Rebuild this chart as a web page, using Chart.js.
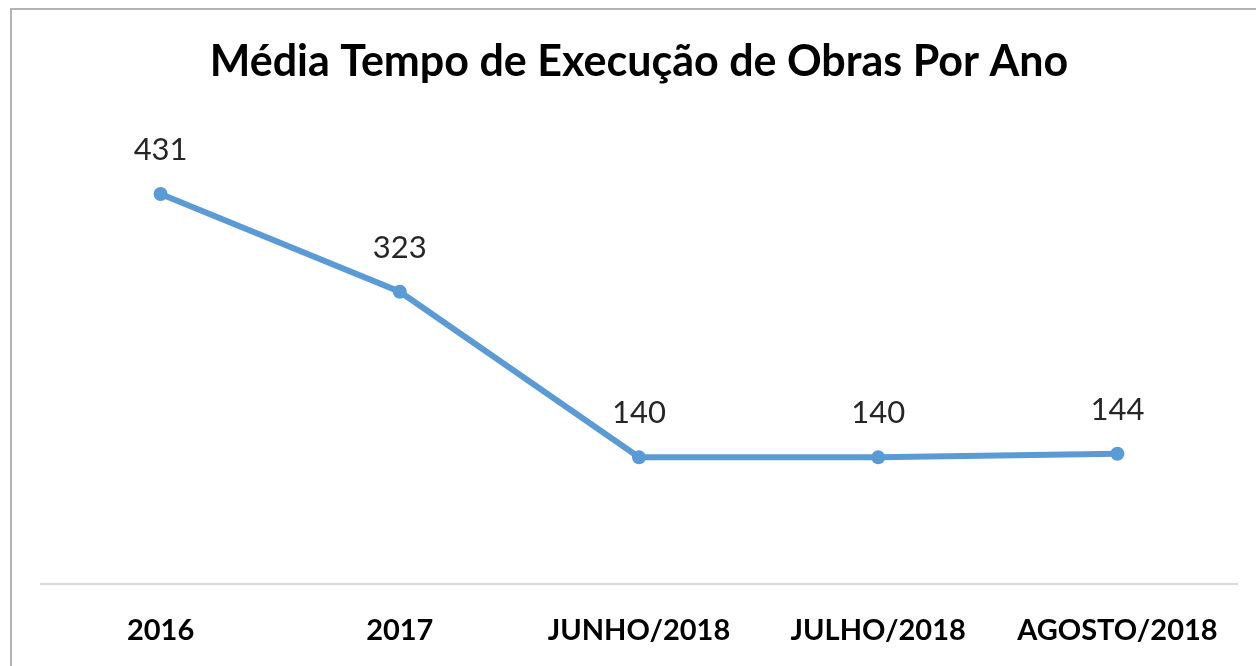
<!DOCTYPE html>
<html>
<head>
<meta charset="utf-8">
<script src="https://cdn.jsdelivr.net/npm/chart.js@4"></script>
<style>
  html, body { margin: 0; padding: 0; background: #fff; }
  #wrap { position: relative; width: 1256px; height: 666px; }
</style>
</head>
<body>
<div id="wrap"><canvas id="obrasChart" width="1256" height="666"></canvas></div>
<script>
const categorias = ['2016', '2017', 'JUNHO/2018', 'JULHO/2018', 'AGOSTO/2018'];
const mediaDias = [431, 323, 140, 140, 144];

// bordas cinza em cima e a esquerda, como no original
const bordaPlugin = {
    id: 'borda',
    beforeDraw(chart) {
        const ctx = chart.ctx;
        ctx.save();
        ctx.fillStyle = '#b4b4b4';
        ctx.fillRect(10, 8, chart.width - 10, 2);
        ctx.fillRect(10, 8, 2, chart.height - 8);
        ctx.restore();
    }
};

// rotulos de dados acima dos pontos
const rotulosPlugin = {
    id: 'rotulos',
    afterDatasetsDraw(chart) {
        const ctx = chart.ctx;
        const meta = chart.getDatasetMeta(0);
        ctx.save();
        ctx.font = '31px Lato';
        ctx.fillStyle = '#262626';
        ctx.textAlign = 'center';
        ctx.textBaseline = 'middle';
        meta.data.forEach((pt, i) => {
            ctx.fillText(String(mediaDias[i]), pt.x, pt.y - 44);
        });
        ctx.restore();
    }
};

new Chart(document.getElementById('obrasChart').getContext('2d'), {
    type: 'line',
    data: {
        labels: categorias,
        datasets: [{
            data: mediaDias,
            borderColor: '#5b9bd5',
            backgroundColor: '#5b9bd5',
            borderWidth: 6,
            pointRadius: 7,
            pointBackgroundColor: '#5b9bd5',
            pointBorderWidth: 0,
            tension: 0,
            fill: false
        }]
    },
    options: {
        responsive: false,
        animation: false,
        layout: {
            padding: { left: 41, right: 19, top: 0, bottom: 17 }
        },
        plugins: {
            legend: { display: false },
            tooltip: { enabled: false },
            title: {
                display: true,
                text: 'Média Tempo de Execução de Obras Por Ano',
                color: '#000',
                font: { family: 'Lato', size: 43, weight: 'bold' },
                padding: { top: 36, bottom: 44 }
            }
        },
        scales: {
            x: {
                offset: true,
                grid: { display: false, drawTicks: false },
                border: { display: true, color: '#d9d9d9', width: 2 },
                ticks: {
                    color: '#000',
                    padding: 29,
                    font: { family: 'Lato', size: 29, weight: 'bold' },
                    maxRotation: 0
                },
                afterFit(scale) {
                    scale.height = 65;
                }
            },
            y: {
                display: false,
                min: 0,
                max: 500
            }
        }
    },
    plugins: [bordaPlugin, rotulosPlugin]
});
</script>
</body>
</html>
